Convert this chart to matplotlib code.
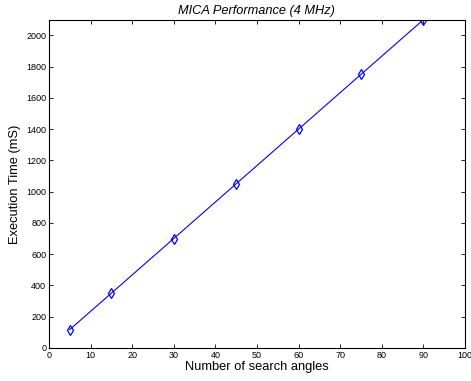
import numpy as np
import matplotlib
matplotlib.use("Agg")
import matplotlib.pyplot as plt

plt.rcParams['font.family'] = ['Liberation Sans', 'DejaVu Sans']

#  Data
angles = [5, 15, 30, 45, 60, 75, 90]
exec_ms = [117, 350, 700, 1050, 1400, 1750, 2100]

fig = plt.figure(figsize=(4.71, 3.81), dpi=100)
ax = fig.add_axes([0.104, 0.087, 0.883, 0.861])

ax.plot(angles, exec_ms, color='b', linewidth=0.8, marker='d',
        markerfacecolor='none', markeredgecolor='b', markersize=5,
        markeredgewidth=0.9)

ax.set_xlim(0, 100)
ax.set_ylim(0, 2100)
ax.set_xticks(np.arange(0, 101, 10))
ax.set_yticks(np.arange(0, 2001, 200))
ax.tick_params(direction='in', top=True, right=True, labelsize=6.5,
               length=3, width=0.6, pad=2)
for s in ax.spines.values():
    s.set_linewidth(0.8)

ax.set_xlabel("Number of search angles", fontsize=9.3, labelpad=1)
ax.set_ylabel("Execution Time (mS)", fontsize=9.3, labelpad=4)
ax.set_title("MICA Performance (4 MHz)", fontsize=9.2, style='italic', pad=4)

plt.savefig("out.png", dpi=100)
